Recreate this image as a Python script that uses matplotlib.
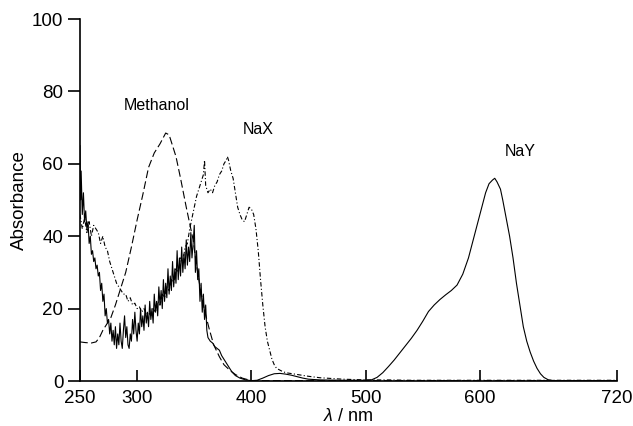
import matplotlib
matplotlib.use("Agg")
import matplotlib.pyplot as plt

# ---------------- data ----------------
nay_x = [250, 250.5, 251, 252, 253, 254, 255, 256, 257, 258, 259, 260, 261, 262, 263, 264, 265, 266, 267, 268,
         269, 270, 271, 272, 273, 274, 275, 276, 277, 278, 279, 280, 281, 282, 283, 284, 285, 286, 287, 288,
         289, 290, 291, 292, 293, 294, 295, 296, 297, 298, 299, 300, 301, 302, 303, 304, 305, 306, 307, 308,
         309, 310, 311, 312, 313, 314, 315, 316, 317, 318, 319, 320, 321, 322, 323, 324, 325, 326, 327, 328,
         329, 330, 331, 332, 333, 334, 335, 336, 337, 338, 339, 340, 341, 342, 343, 344, 345, 346, 347, 348,
         349, 350, 351, 352, 353, 354, 355, 356, 357, 358, 359, 360, 361, 362, 364, 366, 368, 370, 372, 374,
         376, 378, 380, 383, 386, 390, 395, 400, 405, 410, 415, 420, 425, 430, 435, 440, 445, 450, 460, 480,
         500, 505, 510, 515, 520, 525, 530, 535, 540, 545, 550, 555, 560, 565, 570, 575, 580, 585, 590, 595,
         600, 605, 608, 611, 613, 615, 618, 620, 623, 626, 629, 632, 635, 638, 641, 644, 647, 650, 653, 656,
         660, 665, 720]
nay_y = [65, 50, 58, 46, 52, 44, 47, 42, 44, 38, 40, 35, 36, 33, 34, 31, 32, 29, 30, 25,
         27, 22, 24, 18, 20, 16, 17, 13, 16, 11, 14, 10, 15, 9, 13, 10, 16, 11, 9, 14,
         18, 12, 15, 10, 9, 13, 11, 17, 13, 19, 14, 11, 16, 13, 20, 15, 18, 14, 21, 16,
         19, 15, 22, 17, 20, 16, 24, 19, 22, 18, 26, 21, 25, 20, 28, 22, 27, 23, 31, 24,
         29, 25, 33, 26, 31, 27, 36, 28, 34, 29, 37, 30, 35, 31, 39, 32, 37, 33, 41, 34,
         38, 43, 30, 36, 28, 31, 22, 27, 19, 24, 17, 21, 14, 12, 11, 10.5, 9.5, 9, 8.5, 7,
         6, 5, 4, 2.5, 1.5, 0.8, 0.3, 0.1, 0.2, 0.8, 1.5, 2.0, 2.1, 1.9, 1.6, 1.2, 0.8, 0.5, 0.3, 0.2,
         0.2, 0.3, 1.0, 2.3, 4, 5.8, 7.8, 9.8, 11.8, 14, 16.5, 19.2, 21, 22.5, 23.8, 25, 26.5, 29.5, 34, 40,
         46, 52, 54.5, 55.5, 56, 55, 53, 50, 45, 40, 34, 27, 21, 15, 11, 8, 5.5, 3.5, 2, 1,
         0.3, 0.1, 0.1]

nax_x = [250, 252, 254, 256, 258, 260, 262, 264, 266, 268, 270, 272, 274, 276, 278, 280, 282, 284, 286, 288,
         290, 292, 294, 296, 298, 300, 302, 304, 306, 308, 310, 312, 314, 316, 318, 320, 322, 324, 326, 328,
         330, 332, 334, 336, 338, 340, 342, 344, 346, 348, 350, 352, 354, 356, 358, 359, 360, 362, 364, 366,
         368, 370, 372, 374, 376, 378, 379, 380, 382, 384, 386, 388, 390, 392, 394, 396, 398, 400, 402, 404,
         406, 408, 410, 412, 414, 416, 418, 420, 422, 425, 428, 432, 440, 450, 460, 470, 480, 490, 500, 520,
         540, 720]
nax_y = [46, 42, 45, 41, 44, 40, 43, 42, 41, 38, 40, 37, 36, 33, 31, 29, 27, 26, 25, 24,
         24, 22, 23, 21, 21.5, 20, 20.5, 19, 20, 18.5, 19, 18, 20, 19, 22, 21, 24, 23, 26, 25,
         28, 27, 31, 30, 34, 33, 37, 38, 42, 45, 48, 51, 53, 55, 57, 61, 54, 52, 53, 52,
         54, 55, 57, 58, 60, 61, 62, 61, 58, 56, 52, 48, 46, 44.5, 44, 46, 48, 47.5, 46, 42,
         36, 28, 21, 15, 11, 8.5, 6, 4.5, 3.5, 3, 2.5, 2.2, 1.8, 1.3, 0.9, 0.7, 0.5, 0.4, 0.3, 0.3,
         0.2, 0.2]

meoh_x = [250, 255, 260, 264, 267, 270, 273, 277, 281, 285, 290, 295, 300, 305, 310, 315, 320, 325, 328, 331,
          334, 338, 343, 349, 352, 355, 359, 363, 367, 372, 376, 381, 386, 392, 400, 720]
meoh_y = [10.8, 10.6, 10.5, 10.8, 12, 14, 15.5, 17.5, 21, 25, 30, 37, 44.5, 51.5, 59, 63, 65.5, 68.5, 68, 65,
          62, 56, 48, 39, 32, 26, 19.5, 14.5, 10, 6.7, 4.5, 3, 1.8, 0.8, 0.1, 0.1]

labels = ["Methanol", "NaX", "NaY"]
label_pos_x = [317, 406, 635]
label_pos_y = [76, 69.5, 63.4]

x_ticks = [250, 300, 400, 500, 600, 720]
y_ticks = [0, 20, 40, 60, 80, 100]

# ---------------- figure ----------------
plt.rcParams['font.family'] = ['Liberation Sans', 'DejaVu Sans']
plt.rcParams['mathtext.fontset'] = 'custom'
plt.rcParams['mathtext.it'] = 'Liberation Sans:italic'
fig = plt.figure(figsize=(6.33, 4.26), dpi=100)
ax = fig.add_axes([80/633, 45/426, 537/633, 362/426])

lw = 0.8
ax.plot(meoh_x, meoh_y, color='black', lw=lw, dashes=(7, 3))
ax.plot(nax_x, nax_y, color='black', lw=lw, dashes=(4, 2, 1, 2))
ax.plot(nay_x, nay_y, color='black', lw=lw, ls='-')

for t, x, y in zip(labels, label_pos_x, label_pos_y):
    ax.text(x, y, t, fontsize=11.5, ha='center', va='center')

ax.set_xlim(250, 720)
ax.set_ylim(0, 100)
ax.set_xticks(x_ticks)
ax.set_yticks(y_ticks)
ax.spines['top'].set_visible(False)
ax.spines['right'].set_visible(False)
ax.spines['left'].set_linewidth(1.2)
ax.spines['bottom'].set_linewidth(1.2)
ax.tick_params(axis='x', direction='in', length=8, width=1.2, labelsize=13.5, pad=6.5)
ax.tick_params(axis='y', direction='out', length=9, width=1.2, labelsize=13.5, pad=3)
ax.set_xlabel(r'$\mathit{\lambda}$ / nm', fontsize=13, labelpad=0.5)
ax.set_ylabel('Absorbance', fontsize=13.5, labelpad=3)

fig.savefig('out.png', dpi=100)
